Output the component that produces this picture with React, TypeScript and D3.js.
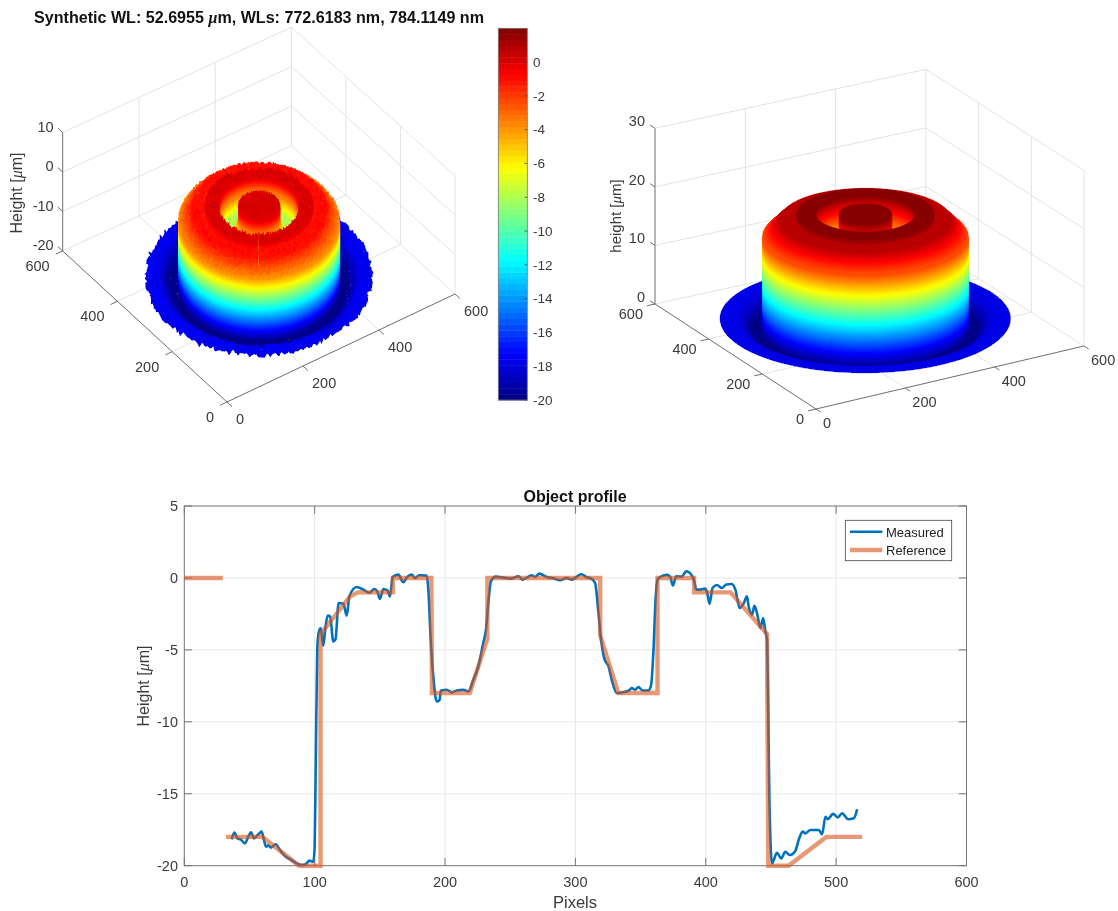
import React, { useMemo } from "react";
import * as d3 from "d3";

// ---------- profile chart data ----------
const measuredPixels = [36.3,38.4,40.7,43.2,46.5,49.1,51.2,53.5,56.8,59.3,61.1,62.7,64.5,66.5,70.1,73.4,77.2,82.4,86.2,90,93.4,95.9,99,100,100.8,102,103,104.6,106.6,108.2,110,111.8,114.3,115.9,118.4,122,124.6,126.6,132.2,137.3,142,145.8,148,150,152.7,155.8,157.8,159.8,164.2,168,171,174.4,177,180.3,185.9,187.2,189,191,193.6,195.7,196.9,201.3,205.1,209,214,217.9,221.7,225.5,229.3,231.4,233.2,235.2,239,244.7,251,256.2,259.5,266.5,269,272.3,278,283,288.2,293.3,297.2,304.4,308.7,312.5,315.1,317.7,319.7,322.3,325.4,327.9,331.8,335.6,340.7,343.3,345.8,348.4,351.5,356.1,358.1,359.9,361.5,363,365.6,370.2,372.7,374.8,377.3,381.7,385,389.4,391.2,392.7,395.8,399.6,401.4,402.9,405.2,408.5,412.4,415.7,420,422.7,426,429,431.6,432.9,435.5,437.3,439.3,441.9,444,445.7,447,447.8,448.8,450.8,454.6,457.9,461,464.4,468.8,471.3,474.4,476.4,480.3,486.7,489.2,491.8,493.6,497.7,501.3,504.6,509.2,513.6,516.1];
const measuredHeight = [-18.17,-17.7,-18.1,-18.17,-18.45,-17.98,-17.68,-18.1,-17.82,-17.63,-18.21,-18.68,-18.58,-18.75,-18.51,-18.91,-19.33,-19.61,-19.84,-19.95,-19.88,-19.65,-19.72,-18.68,-13.1,-5,-3.83,-3.48,-4.71,-3.48,-2.62,-2.67,-4.41,-4.29,-1.74,-1.79,-2.62,-1.28,-0.63,-0.81,-1.04,-0.77,-0.93,-1.46,-0.77,-0.86,-1.28,0.07,0.23,-0.3,0.07,0.23,-0.02,0.19,0.16,-0.81,-4.29,-6.84,-8.58,-8.51,-7.82,-7.77,-7.96,-7.82,-7.77,-7.89,-7.08,-6.15,-4.52,-3.6,-1.74,-0.23,0.09,0.02,-0.05,0.12,-0.12,0.19,0.07,0.3,0.07,-0.02,-0.16,0,-0.12,0.26,0.05,-0.07,-0.35,-2.44,-4.29,-5.64,-6.15,-7.08,-8,-7.96,-7.84,-7.66,-7.77,-7.59,-7.82,-7.82,-7.42,-5,-1.51,-0.12,0.09,0.21,0.07,-0.53,0.12,0.09,0.46,0.16,-0.23,-0.81,-0.81,-0.74,-1.16,-1.79,-0.7,-0.49,-0.7,-0.46,-0.42,-0.81,-2.09,-1.79,-1.28,-1.97,-2.55,-1.93,-2.44,-3.48,-2.78,-3.71,-4.29,-8.47,-15.4,-19.84,-19.1,-19.5,-19.03,-19.26,-18.96,-18.2,-17.63,-17.75,-17.52,-17.52,-17.82,-16.6,-16.77,-16.4,-16.64,-16.36,-16.77,-16.7,-16.08];
const referencePixels = [0,29.5,NaN,32,60,88,104.5,104.5,127,133,160,160,189.5,190,219,232.5,232.5,319,319,333,363,363,391,391,419,447,448,463.5,492.5,520];
const referenceHeight = [0,0,NaN,-18,-18,-20,-20,-3.9,-1.3,-1,-1,0,0,-8,-8,-4.2,0,0,-4,-8,-8,0,0,-1,-1,-3.9,-20,-20,-18,-18];
const profileXTicks = [0,100,200,300,400,500,600];
const profileYTicks = [5,0,-5,-10,-15,-20];

// ---------- radial height profiles of the two surfaces ----------
const measuredRadius = [0,44,44,57,86,86,115,115,143,172,172,187,215,240];
const measuredSurface = [0,0,-4,-8,-8,0,0,-1,-1,-3.9,-20,-20,-17.6,-17.6];
const modelRadius = [0,50,50,65,96,96,131,131,163,197,197,213,245,278];
const modelSurface = [20,20,16,12,12,20,20,19,19,16.1,0,0,2,2];
// Estimated surface roughness of the measured panel (the pixel noise cannot be read point by point).
const roughness = [0.6,-0.4,0.9,-0.8,0.1,0.5,-0.9,0.3,-0.2,0.8,-0.6,0.4,-1,0.7,0,-0.5,0.95,-0.3,0.2,-0.85,0.55,-0.1,0.75,-0.65,0.35,-0.95,0.15,0.85,-0.45,0.05,-0.7,1,-0.25,0.45,-0.55,0.65,-0.15,-0.9,0.25,0.8,-0.35,0.5,-0.75,0.1,0.9,-0.6,0.3,-0.05,0.7,-1,0.4,-0.2,0.6,-0.8,0.2,0.95,-0.4,0,-0.65,0.85,-0.3,0.55,-0.9,0.15,0.75,-0.5,0.35,-0.1,-0.85,0.65,0.05,-0.7,1,-0.25,0.45,-0.55,0.8,-0.15,0.25,-0.95,0.5,-0.35,0.7,-0.6,0.1,0.9,-0.45,0.3,-0.75,0.6,-0.05,0.4,-0.85,0.95,-0.2,0.2,-0.65,0.75,-0.5,0.55,-0.3];

const axisTicksXY = [0,200,400,600];
const leftZTicks = [10,0,-10,-20];
const rightZTicks = [30,20,10,0];
const colorbarTicks = [0,-2,-4,-6,-8,-10,-12,-14,-16,-18,-20];

const FONT = "'Liberation Sans', Arial, sans-serif";
const TEXT = "#3a3a3a";

// jet colour map
const jetStops = [0,0.125,0.375,0.625,0.875,1];
const jetColors = ["#000080","#0000ff","#00ffff","#ffff00","#ff0000","#800000"];
const jet = d3.scaleLinear<string>().domain(jetStops).range(jetColors).clamp(true);
const jet64 = (t: number) => jet((Math.min(63, Math.max(0, Math.floor(t * 64))) + 0.5) / 64);

type Panel = {
  origin: [number, number]; ex: [number, number]; ey: [number, number]; warp: [number, number]; zPerUnit: number;
  zMin: number; zMax: number; zTicks: number[]; clim: [number, number];
  center: [number, number]; stretch: number; shiftY: number;
  radius: number[]; surface: number[]; rough: number; tint: number; edge: number; sectors: number;
  xLabel: [number, number]; yLabel: [number, number]; zLabelDx: number; zLabelDy: number;
};

const leftPanel: Panel = {
  origin: [227, 402], ex: [228, -108], ey: [-164.3, -151], warp: [0.7, 2.7], zPerUnit: 3.947,
  zMin: -20, zMax: 10, zTicks: leftZTicks, clim: [-20, 2], center: [280, 272], stretch: 1.07, shiftY: 2,
  radius: measuredRadius, surface: measuredSurface, rough: 0.7, tint: 0.45, edge: 4, sectors: 240,
  xLabel: [9, 17], yLabel: [-13, 15], zLabelDx: -9, zLabelDy: -1,
};
const rightPanel: Panel = {
  origin: [816, 409], ex: [268, -63], ey: [-161, -105], warp: [3, 4], zPerUnit: 5.857,
  zMin: 0, zMax: 30, zTicks: rightZTicks, clim: [0, 20], center: [280, 284], stretch: 0.96, shiftY: 0,
  radius: modelRadius, surface: modelSurface, rough: 0, tint: 0, edge: 0, sectors: 240,
  xLabel: [7, 14], yLabel: [-12, 10], zLabelDx: -10, zLabelDy: -2,
};

function projector(p: Panel) {
  const sx = d3.scaleLinear().domain([0, 600]).range([0, p.ex[0]]);
  const sxy = d3.scaleLinear().domain([0, 600]).range([0, p.ex[1]]);
  const sy = d3.scaleLinear().domain([0, 600]).range([0, p.ey[0]]);
  const syy = d3.scaleLinear().domain([0, 600]).range([0, p.ey[1]]);
  const sz = d3.scaleLinear().domain([p.zMin, p.zMax]).range([0, -(p.zMax - p.zMin) * p.zPerUnit]);
  return (x: number, y: number, z: number): [number, number] => {
    const w = (x * y) / 360000;
    return [
      p.origin[0] + sx(x) + sy(y) + w * p.warp[0],
      p.origin[1] + sxy(x) + syy(y) + sz(z) + w * p.warp[1],
    ];
  };
}

function buildSurface(p: Panel) {
  const project = projector(p);
  const zStep = (p.clim[1] - p.clim[0]) / 64;
  const knots: { r: number; z: number; wall: boolean }[] = [{ r: p.radius[0], z: p.surface[0], wall: false }];
  for (let k = 0; k + 1 < p.radius.length; k++) {
    const dr = p.radius[k + 1] - p.radius[k];
    const dz = p.surface[k + 1] - p.surface[k];
    const n = Math.max(1, Math.ceil(Math.abs(dr) / 5), Math.ceil(Math.abs(dz) / zStep));
    for (let s = 1; s <= n; s++) {
      knots.push({ r: p.radius[k] + (dr * s) / n, z: p.surface[k] + (dz * s) / n, wall: dr === 0 && s < n });
    }
  }
  const N = p.sectors;
  const angle = d3.scaleLinear().domain([0, N]).range([0, 2 * Math.PI]);
  const rough = (i: number, j: number) => {
    const a = i % N;
    return roughness[(a * 37 + j * j * 13 + a * j * 7) % roughness.length];
  };
  const vertex = (i: number, j: number) => {
    const k = knots[j];
    const a = angle(i % N);
    const isEdge = j === knots.length - 1;
    const r = k.r + (isEdge ? p.edge * rough(i, 3) : 0);
    const z = k.z + p.rough * (k.wall ? 0.1 : 1) * rough(i, j);
    const base = project(p.center[0], p.center[1], z);
    const at = project(p.center[0] + r * Math.cos(a), p.center[1] + r * Math.sin(a), z);
    return [at[0], base[1] + (at[1] - base[1]) * p.stretch + p.shiftY] as [number, number];
  };
  // plan direction towards the camera: the line of sight keeps screen x constant
  let vx = p.ey[0], vy = -p.ex[0];
  if (p.ex[1] * vx + p.ey[1] * vy < 0) { vx = -vx; vy = -vy; }
  const camera = Math.atan2(vy, vx);
  const det = p.ex[0] * p.ey[1] - p.ey[0] * p.ex[1];
  const order = d3.range(N).map((i) => {
    const mid = angle(i + 0.5);
    let d = Math.abs(mid - camera) % (2 * Math.PI);
    if (d > Math.PI) d = 2 * Math.PI - d;
    return { i, d };
  }).sort((a, b) => b.d - a.d);

  const color = d3.scaleLinear().domain(p.clim).range([0, 1]);
  const shapes: { d: string; fill: string }[] = [];
  let path = d3.path();
  let fill = "";
  let open = false;
  for (const { i, d } of order) {
    const js = d3.range(knots.length - 1);
    if (d > Math.PI / 2) js.reverse();
    for (const j of js) {
      const q = [vertex(i, j), vertex(i, j + 1), vertex(i + 1, j + 1), vertex(i + 1, j)];
      let area = 0;
      for (let m = 0; m < 4; m++) {
        const a = q[m], b = q[(m + 1) % 4];
        area += a[0] * b[1] - b[0] * a[1];
      }
      if (area * det <= 0) continue;
      const wallCell = knots[j].wall || knots[j + 1].wall;
      const zMean = (knots[j].z + knots[j + 1].z) / 2 + (wallCell ? 0 : (p.tint * (rough(i, j) + rough(i + 1, j + 1))) / 2);
      const f = jet64(color(zMean));
      if (open && f !== fill) {
        shapes.push({ d: path.toString(), fill });
        path = d3.path();
      }
      fill = f;
      open = true;
      path.moveTo(+q[0][0].toFixed(1), +q[0][1].toFixed(1));
      for (let m = 1; m < 4; m++) path.lineTo(+q[m][0].toFixed(1), +q[m][1].toFixed(1));
      path.closePath();
    }
  }
  if (open) shapes.push({ d: path.toString(), fill });
  return shapes;
}

const Mu = () => <tspan fontFamily="'Liberation Serif', serif" fontStyle="italic">μ</tspan>;

function Axes3D({ p, label, labelPos, labelSize }: { p: Panel; label: string; labelPos: [number, number]; labelSize: number }) {
  const project = projector(p);
  const seg = (a: [number, number, number], b: [number, number, number], stroke: string, key: string) => {
    const A = project(a[0], a[1], a[2]);
    const B = project(b[0], b[1], b[2]);
    return <line key={key} x1={A[0]} y1={A[1]} x2={B[0]} y2={B[1]} stroke={stroke} strokeWidth={1} />;
  };
  const grid = "#e3e3e3";
  const axis = "#6e6e6e";
  const { zMin: z0, zMax: z1 } = p;
  const inner = axisTicksXY.slice(1, 3);
  const shapes3: React.ReactNode[] = [];
  inner.forEach((t) => {
    shapes3.push(seg([t, 0, z0], [t, 600, z0], grid, `fx${t}`));
    shapes3.push(seg([0, t, z0], [600, t, z0], grid, `fy${t}`));
    shapes3.push(seg([t, 600, z0], [t, 600, z1], grid, `wx${t}`));
    shapes3.push(seg([600, t, z0], [600, t, z1], grid, `wy${t}`));
  });
  p.zTicks.forEach((z) => {
    shapes3.push(seg([0, 600, z], [600, 600, z], grid, `zx${z}`));
    shapes3.push(seg([600, 600, z], [600, 0, z], grid, `zy${z}`));
  });
  shapes3.push(seg([600, 600, z0], [600, 600, z1], grid, "back"));
  shapes3.push(seg([600, 0, z0], [600, 0, z1], grid, "right"));
  shapes3.push(seg([0, 600, z0], [0, 600, z1], axis, "zaxis"));
  shapes3.push(seg([0, 0, z0], [600, 0, z0], axis, "xaxis"));
  shapes3.push(seg([0, 0, z0], [0, 600, z0], axis, "yaxis"));
  axisTicksXY.forEach((t) => {
    shapes3.push(seg([t, 0, z0], [t, -18, z0], axis, `tx${t}`));
    shapes3.push(seg([0, t, z0], [-18, t, z0], axis, `ty${t}`));
  });
  p.zTicks.forEach((z) => shapes3.push(seg([0, 600, z], [0, 618, z], axis, `tz${z}`)));
  const ts = { fontFamily: FONT, fontSize: 14.5, fill: TEXT } as const;
  return (
    <g>
      {shapes3}
      {axisTicksXY.map((t) => {
        const P = project(t, 0, z0);
        return <text key={`lx${t}`} x={P[0] + p.xLabel[0]} y={P[1] + p.xLabel[1] + 5} {...ts}>{t}</text>;
      })}
      {axisTicksXY.map((t) => {
        const P = project(0, t, z0);
        return <text key={`ly${t}`} x={P[0] + p.yLabel[0]} y={P[1] + p.yLabel[1] + 5} textAnchor="end" {...ts}>{t}</text>;
      })}
      {p.zTicks.map((z) => {
        const P = project(0, 600, z);
        return <text key={`lz${z}`} x={P[0] + p.zLabelDx} y={P[1] + p.zLabelDy} textAnchor="end" {...ts}>{z}</text>;
      })}
      <text transform={`translate(${labelPos[0]},${labelPos[1]}) rotate(-90)`} textAnchor="middle" fontFamily={FONT} fontSize={labelSize} fill={TEXT}>
        {label} [<Mu />m]
      </text>
    </g>
  );
}

function Surface({ p }: { p: Panel }) {
  const shapes = useMemo(() => buildSurface(p), [p]);
  return (
    <g shapeRendering="crispEdges">
      {shapes.map((s, i) => (
        <path key={i} d={s.d} fill={s.fill} stroke={s.fill} strokeWidth={0.6} strokeLinejoin="round" />
      ))}
    </g>
  );
}

function Colorbar() {
  const y = d3.scaleLinear().domain([-20, 2]).range([400, 28.3]);
  const levels = d3.range(64);
  const h = (400 - 28.3) / 64;
  return (
    <g>
      {levels.map((l) => (
        <rect key={l} x={498.3} width={29} y={y(-20 + ((l + 1) * 22) / 64)} height={h + 0.4} fill={jet((l + 0.5) / 64)} />
      ))}
      <rect x={498.3} y={28.3} width={29} height={371.7} fill="none" stroke="#777" strokeWidth={0.8} />
      {colorbarTicks.map((t) => (
        <g key={t}>
          <line x1={524.5} x2={527.3} y1={y(t)} y2={y(t)} stroke="#444" strokeWidth={0.8} />
          <text x={533} y={y(t) + 4.7} fontFamily={FONT} fontSize={13.5} fill={TEXT}>{t}</text>
        </g>
      ))}
    </g>
  );
}

function Profile() {
  const x = d3.scaleLinear().domain([0, 600]).range([184.3, 966.5]);
  const y = d3.scaleLinear().domain([-20, 5]).range([865.7, 506]);
  const linePath = (xs: number[], ys: number[], curve: d3.CurveFactory) =>
    d3.line<number>()
      .defined((i) => !Number.isNaN(xs[i]))
      .curve(curve)
      .x((i) => x(xs[i]))
      .y((i) => y(ys[i]))(d3.range(xs.length)) as string;
  const grid = "#e8e8e8";
  const box = "#747474";
  const ts = { fontFamily: FONT, fontSize: 14.5, fill: TEXT } as const;
  return (
    <g>
      {profileXTicks.slice(1, -1).map((t) => <line key={t} x1={x(t)} x2={x(t)} y1={506} y2={865.7} stroke={grid} />)}
      {profileYTicks.slice(1, -1).map((t) => <line key={t} x1={184.3} x2={966.5} y1={y(t)} y2={y(t)} stroke={grid} />)}
      <rect x={184.3} y={506} width={782.2} height={359.7} fill="none" stroke={box} strokeWidth={1} />
      {profileXTicks.map((t) => (
        <g key={t}>
          <line x1={x(t)} x2={x(t)} y1={865.7} y2={858} stroke={box} />
          <line x1={x(t)} x2={x(t)} y1={506} y2={513.7} stroke={box} />
          <text x={x(t)} y={887} textAnchor="middle" {...ts}>{t}</text>
        </g>
      ))}
      {profileYTicks.map((t) => (
        <g key={t}>
          <line x1={184.3} x2={192} y1={y(t)} y2={y(t)} stroke={box} />
          <line x1={966.5} x2={958.8} y1={y(t)} y2={y(t)} stroke={box} />
          <text x={178} y={y(t) + 5} textAnchor="end" {...ts}>{t}</text>
        </g>
      ))}
      <path d={linePath(measuredPixels, measuredHeight, d3.curveMonotoneX)} fill="none" stroke="#0072BD" strokeWidth={2.6} strokeLinejoin="round" />
      <path d={linePath(referencePixels, referenceHeight, d3.curveLinear)} fill="none" stroke="#D95319" strokeOpacity={0.6} strokeWidth={4.4} strokeLinejoin="miter" />
      <text x={575} y={501.5} textAnchor="middle" fontFamily={FONT} fontSize={16} fontWeight="bold" fill="#111">Object profile</text>
      <text x={575} y={908} textAnchor="middle" fontFamily={FONT} fontSize={16.5} fill={TEXT}>Pixels</text>
      <text transform="translate(149,686) rotate(-90)" textAnchor="middle" fontFamily={FONT} fontSize={16} fill={TEXT}>Height [<Mu />m]</text>
      <rect x={845.3} y={520.3} width={106.4} height={40.4} fill="#fff" stroke="#444" strokeWidth={0.8} />
      <line x1={850} x2={882.3} y1={531.7} y2={531.7} stroke="#0072BD" strokeWidth={2.6} />
      <line x1={850} x2={882.3} y1={550} y2={550} stroke="#D95319" strokeOpacity={0.6} strokeWidth={4.4} />
      <text x={886} y={536.5} fontFamily={FONT} fontSize={13} fill="#222">Measured</text>
      <text x={886} y={554.7} fontFamily={FONT} fontSize={13} fill="#222">Reference</text>
    </g>
  );
}

export default function App() {
  return (
    <svg width={1118} height={911} viewBox="0 0 1118 911"
      style={{ position: "absolute", left: 0, top: 0, display: "block", background: "#fff", filter: "blur(0.4px)" }}>
      <text x={34} y={23} fontFamily={FONT} fontSize={16.1} fontWeight="bold" fill="#111">
        Synthetic WL: 52.6955 <Mu />m, WLs: 772.6183 nm, 784.1149 nm
      </text>
      <Axes3D p={leftPanel} label="Height" labelPos={[22, 193]} labelSize={16} />
      <Surface p={leftPanel} />
      <Colorbar />
      <Axes3D p={rightPanel} label="height" labelPos={[621, 216]} labelSize={15} />
      <Surface p={rightPanel} />
      <Profile />
    </svg>
  );
}
